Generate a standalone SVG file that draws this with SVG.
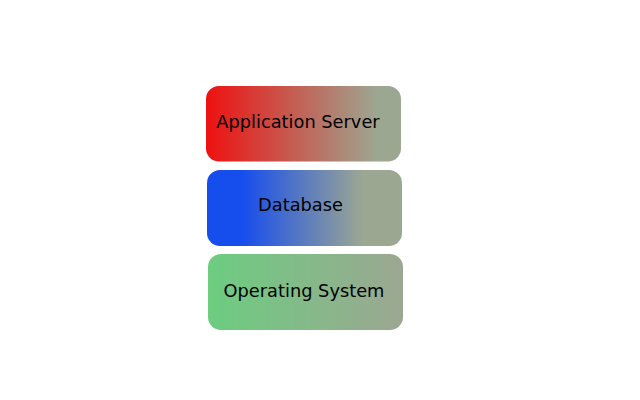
<svg xmlns="http://www.w3.org/2000/svg" width="640" height="400" viewBox="0 0 640 400">
<defs>
<linearGradient id="gRed" x1="0" y1="0" x2="1" y2="0">
<stop offset="0" stop-color="#ee1111"/>
<stop offset="0.88" stop-color="#9ca792"/>
<stop offset="1" stop-color="#9ca792"/>
</linearGradient>
<linearGradient id="gBlue" x1="0" y1="0" x2="1" y2="0">
<stop offset="0.18" stop-color="#164ded"/>
<stop offset="0.8" stop-color="#9ca792"/>
<stop offset="1" stop-color="#9ca792"/>
</linearGradient>
<linearGradient id="gGreen" x1="0" y1="0" x2="1" y2="0">
<stop offset="0" stop-color="#6ccd80"/>
<stop offset="1" stop-color="#9ca792"/>
</linearGradient>
<style>
text{font-family:"DejaVu Sans",sans-serif;font-size:17.8px;fill:#000;text-anchor:middle}
</style>
</defs>
<rect width="640" height="400" fill="#fff"/>
<g id="app-server">
<rect x="206" y="86" width="195" height="75.5" rx="13" fill="url(#gRed)"/>
<text x="298" y="127.5">Application Server</text>
</g>
<g id="database">
<rect x="207" y="170" width="195" height="76" rx="13" fill="url(#gBlue)"/>
<text x="300.5" y="210.5">Database</text>
</g>
<g id="operating-system">
<rect x="208" y="254" width="195" height="76" rx="13" fill="url(#gGreen)"/>
<text x="304" y="296.5">Operating System</text>
</g>
<g id="connectors"/>
</svg>
